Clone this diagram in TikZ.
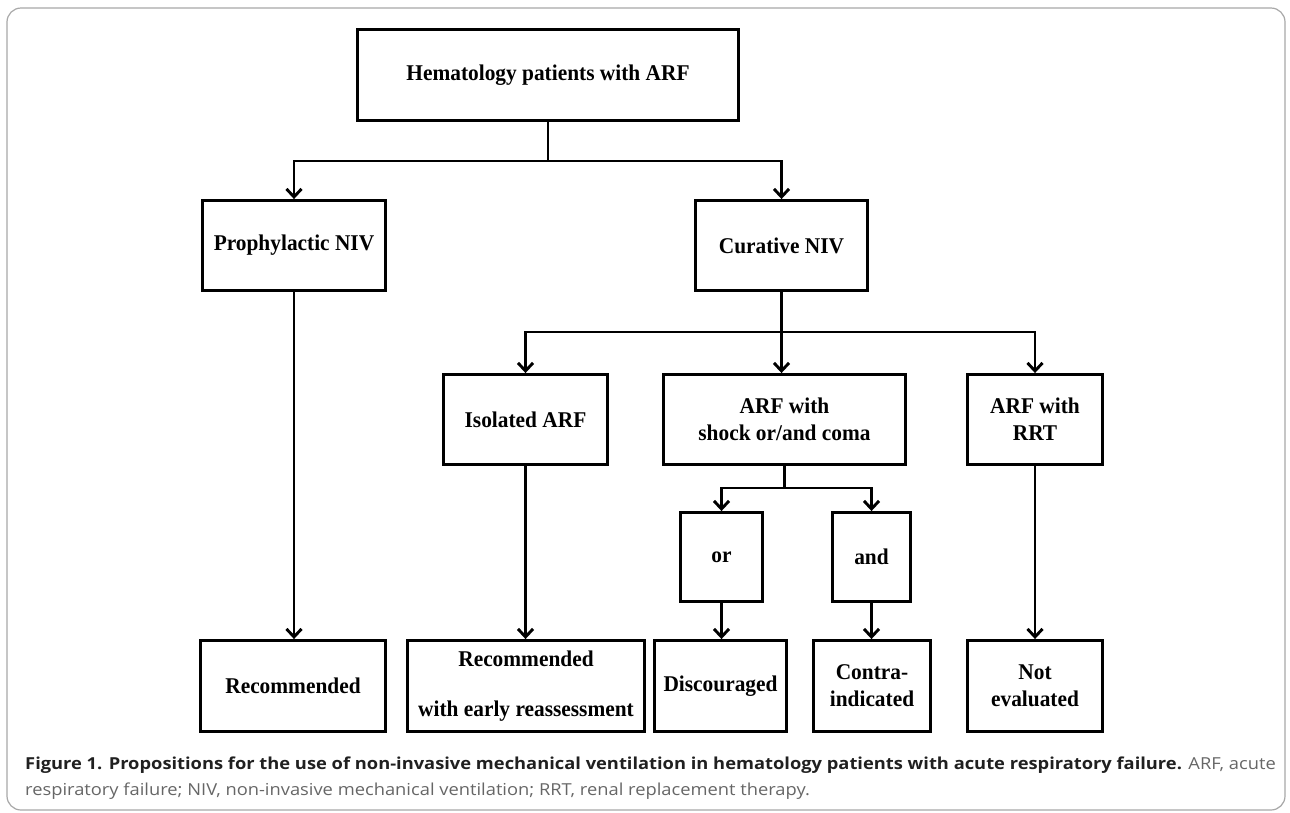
\documentclass[tikz,border=0pt]{standalone}
\usepackage{fontspec}
\setmainfont[FakeStretch=0.95]{Liberation Serif}
\newfontfamily\capfont[FakeStretch=1.11]{Open Sans}
\usepackage{tikz}
\usetikzlibrary{arrows.meta,positioning,calc}
\definecolor{frame}{HTML}{A8A8A8}
\definecolor{captxt}{HTML}{666666}
\definecolor{capbold}{HTML}{202020}

\tikzset{
  box/.style={rectangle, draw=black, line width=2.9pt, fill=white, inner sep=0pt,
              align=center, font=\fontsize{22.5}{27}\selectfont\bfseries},
  line/.style={line width=2.9pt},
  link/.style={line width=2.9pt, -{Straight Barb[length=8pt,width=15pt]}},
}

\begin{document}
\begin{tikzpicture}[x=1pt,y=-1pt]
  \useasboundingbox (0,0) rectangle (1290,812);
  \draw[frame, line width=1.2pt, rounded corners=14pt] (7,8) rectangle (1285,810);

  % first level
  \node[box, minimum width=381pt, minimum height=91pt] (top) at (548,75) {Hematology patients with ARF};
  \node[box, minimum width=183pt, minimum height=90pt] (proph) at (294,245.5) {Prophylactic NIV};
  \node[box, minimum width=172pt, minimum height=90pt] (cur) at (781.5,245.5) {Curative NIV};

  % curative branches
  \node[box, minimum width=164pt, minimum height=90pt] (iso) at (525.5,419.5) {Isolated ARF};
  \node[box, minimum width=242pt, minimum height=90pt] (shock) at (784.5,419.5) {ARF with\\shock or/and coma};
  \node[box, minimum width=135pt, minimum height=90pt] (rrt) at (1035,419.5) {ARF with\\RRT};
  \node[box, minimum width=82pt, minimum height=89pt] (or) at (721.5,557) {or};
  \node[box, minimum width=78pt, minimum height=89pt] (and) at (871.5,557) {and};

  % outcomes
  \node[box, minimum width=185pt, minimum height=91pt] (rec) at (293,686) {Recommended};
  \node[box, minimum width=237pt, minimum height=91pt] (recearly) at (526,686) {Recommended\\[23pt]with early reassessment};
  \node[box, minimum width=132pt, minimum height=91pt] (disc) at (720.5,686) {Discouraged};
  \node[box, minimum width=117pt, minimum height=91pt] (contra) at (872,686) {Contra-\\indicated};
  \node[box, minimum width=135pt, minimum height=91pt] (noteval) at (1035,686) {Not\\evaluated};

  % connectors
  \draw[line] (top.south) -- ++(0,39) coordinate (j1);
  \draw[link] (j1) -| (proph.north);
  \draw[link] (j1) -| (cur.north);
  \draw[line] (cur.south) -- ++(0,40) coordinate (j2);
  \draw[link] (j2) -| (iso.north);
  \draw[link] (j2) -- (j2 |- shock.north);
  \draw[link] (j2) -| (rrt.north);
  \draw[line] (shock.south) -- ++(0,22) coordinate (j3);
  \draw[link] (j3) -| (or.north);
  \draw[link] (j3) -| (and.north);
  \draw[link] (proph.south) -- (proph.south |- rec.north);
  \draw[link] (iso.south) -- (iso.south |- recearly.north);
  \draw[link] (or.south) -- (or.south |- disc.north);
  \draw[link] (and.south) -- (and.south |- contra.north);
  \draw[link] (rrt.south) -- (rrt.south |- noteval.north);

  % caption
  \node[anchor=base west, inner sep=0pt, align=left, text=captxt,
        font=\capfont\fontsize{16.5}{26}\selectfont] (cap) at (25,795)
    {{\color{capbold}\bfseries Figure 1. Propositions for the use of non-invasive mechanical ventilation in hematology patients with acute respiratory failure.} ARF, acute\\
     respiratory failure; NIV, non-invasive mechanical ventilation; RRT, renal replacement therapy.};
\end{tikzpicture}
\end{document}
